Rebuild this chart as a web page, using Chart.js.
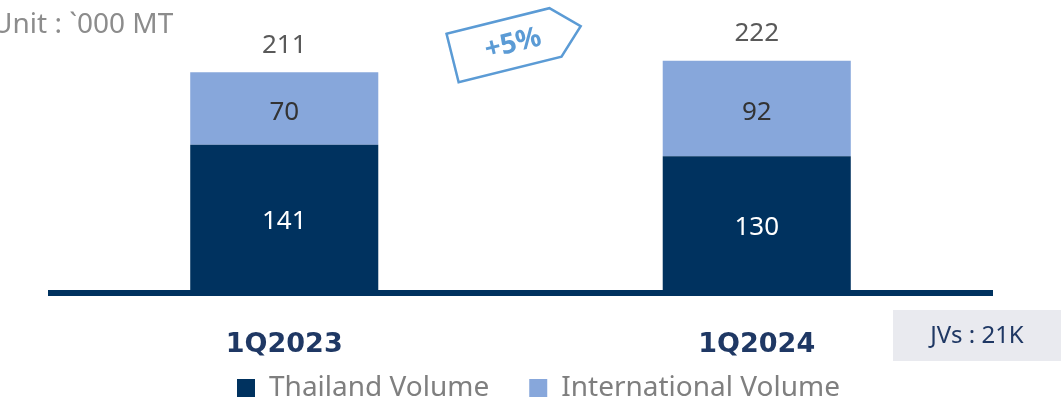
<!DOCTYPE html>
<html lang="en">
<head>
    <meta charset="UTF-8">
    <title>Sales Volume</title>
    <script src="https://cdn.jsdelivr.net/npm/chart.js"></script>
    <style>
        html, body { margin: 0; padding: 0; background: #fff; }
        #wrap { width: 1061px; height: 404px; }
    </style>
</head>
<body>
    <div id="wrap"><canvas id="volChart" width="1061" height="404"></canvas></div>
    <script>
        const quarters = ['1Q2023', '1Q2024'];
        const thailandVolume = [141, 130];
        const internationalVolume = [70, 92];
        const unitText = 'Unit : `000 MT';
        const growthText = '+5%';
        const jvText = 'JVs : 21K';

        const FONT = '"Noto Sans", "Open Sans", sans-serif';
        const NAVY = '#00325f';
        const LIGHT = '#87a7db';

        // value labels inside each segment plus the stacked total above
        const barLabels = {
            id: 'barLabels',
            afterDatasetsDraw(chart) {
                const ctx = chart.ctx;
                ctx.save();
                ctx.textAlign = 'center';
                ctx.textBaseline = 'middle';
                ctx.font = '26px ' + FONT;
                const colors = ['#ffffff', '#333333'];
                chart.data.datasets.forEach((ds, i) => {
                    chart.getDatasetMeta(i).data.forEach((bar, j) => {
                        ctx.fillStyle = colors[i];
                        ctx.fillText(ds.data[j], bar.x, (bar.y + bar.base) / 2 + 4);
                    });
                });
                const top = chart.getDatasetMeta(1).data;
                ctx.fillStyle = '#595959';
                quarters.forEach((q, j) => {
                    const total = thailandVolume[j] + internationalVolume[j];
                    ctx.fillText(total, top[j].x, top[j].y - 27);
                });
                ctx.restore();
            }
        };

        // thick baseline, unit note, growth tag and JV box
        const decorations = {
            id: 'decorations',
            afterDraw(chart) {
                const ctx = chart.ctx;
                const area = chart.chartArea;
                ctx.save();
                ctx.fillStyle = NAVY;
                ctx.fillRect(area.left, area.bottom - 1, area.right - area.left, 6);

                ctx.font = '28px ' + FONT;
                ctx.fillStyle = '#8c8c8c';
                ctx.textAlign = 'left';
                ctx.textBaseline = 'middle';
                ctx.fillText(unitText, -8, 25);

                // price-tag outline
                ctx.translate(505, 45);
                ctx.rotate(-14 * Math.PI / 180);
                ctx.strokeStyle = '#5b9bd5';
                ctx.lineWidth = 2.5;
                ctx.beginPath();
                ctx.moveTo(-54, -25);
                ctx.lineTo(52, -25);
                ctx.lineTo(78, 0);
                ctx.lineTo(52, 25);
                ctx.lineTo(-54, 25);
                ctx.closePath();
                ctx.stroke();
                ctx.fillStyle = '#5b9bd5';
                ctx.font = 'bold 28px ' + FONT;
                ctx.textAlign = 'center';
                ctx.fillText(growthText, 8, 1);
                ctx.setTransform(1, 0, 0, 1, 0, 0);

                ctx.fillStyle = '#e9eaef';
                ctx.fillRect(893, 310, 168, 51);
                ctx.fillStyle = '#1f3864';
                ctx.font = '24px ' + FONT;
                ctx.textAlign = 'center';
                ctx.fillText(jvText, 977, 336);
                ctx.restore();
            }
        };

        // empty legend entries used as spacing between the real ones
        const legendGap = () => ({
            text: '',
            fillStyle: 'rgba(0,0,0,0)',
            strokeStyle: 'rgba(0,0,0,0)',
            lineWidth: 0,
            hidden: false,
            datasetIndex: -1
        });

        new Chart(document.getElementById('volChart'), {
            type: 'bar',
            data: {
                labels: quarters,
                datasets: [
                    {
                        label: 'Thailand Volume',
                        data: thailandVolume,
                        backgroundColor: NAVY,
                        borderWidth: 0
                    },
                    {
                        label: 'International Volume',
                        data: internationalVolume,
                        backgroundColor: LIGHT,
                        borderWidth: 0
                    }
                ]
            },
            options: {
                responsive: false,
                animation: false,
                layout: { padding: { left: 48, right: 68, top: 11, bottom: -8 } },
                datasets: {
                    bar: { categoryPercentage: 1, barPercentage: 0.398 }
                },
                plugins: {
                    tooltip: { enabled: false },
                    legend: {
                        position: 'bottom',
                        labels: {
                            color: '#7f7f7f',
                            font: { family: FONT, size: 28 },
                            boxWidth: 18,
                            boxHeight: 18,
                            padding: 4,
                            generateLabels(chart) {
                                const items = Chart.defaults.plugins.legend.labels.generateLabels(chart);
                                return [legendGap(), items[0], legendGap(), items[1]];
                            }
                        }
                    }
                },
                scales: {
                    x: {
                        stacked: true,
                        grid: { display: false },
                        border: { display: false },
                        ticks: {
                            color: '#1f3864',
                            padding: 30,
                            font: { family: '"DejaVu Sans", sans-serif', size: 27, weight: 'bold' }
                        },
                        afterFit(scale) { scale.height = 79; }
                    },
                    y: {
                        stacked: true,
                        display: false,
                        min: 0,
                        max: 270
                    }
                }
            },
            plugins: [barLabels, decorations]
        });
    </script>
</body>
</html>
